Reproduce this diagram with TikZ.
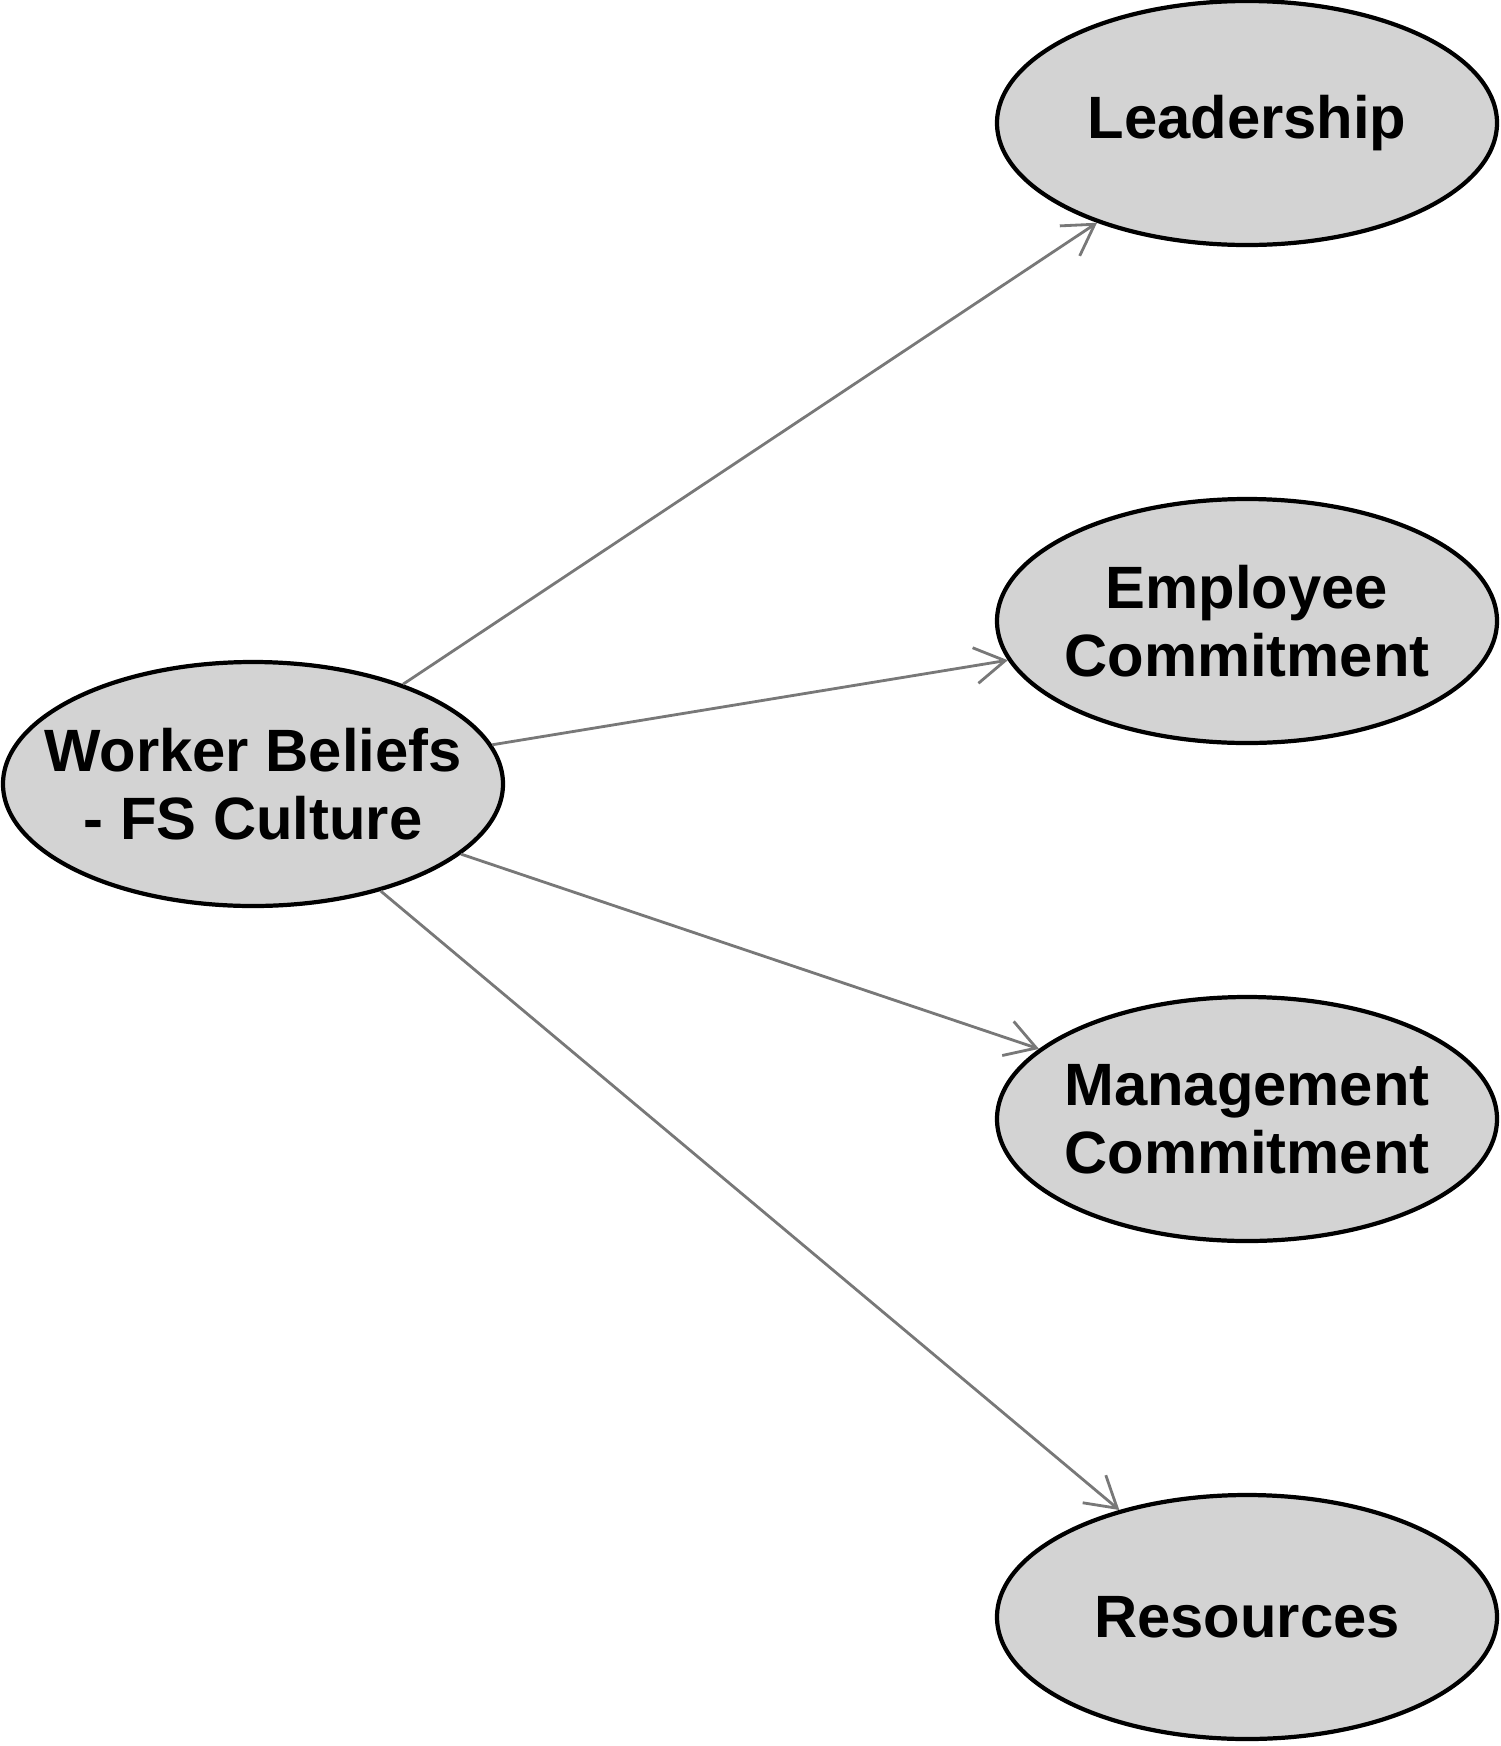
\documentclass[tikz,border=0pt]{standalone}
\usepackage{fontspec}
\setmainfont{Liberation Sans}
\usepackage{tikz}
\usetikzlibrary{arrows.meta, shapes.geometric}

\begin{document}
\begin{tikzpicture}[>={Straight Barb[length=3mm,width=3.6mm]},node distance=4.98cm,
  factor node/.style={ellipse,draw,line width=1.2pt,fill={rgb,255:red,211;green,211;blue,211},
    minimum width=5cm,minimum height=2.44cm,inner xsep=-5mm,inner ysep=0pt,align=center,
    font=\fontsize{17}{19.5}\selectfont\bfseries},
  link/.style={->,draw={rgb,255:red,120;green,120;blue,120},line width=0.8pt}]

    \useasboundingbox (0,0) rectangle (15.01,-17.46);

	\node[factor node] (culture) at (2.53,-7.84) {Worker Beliefs\\- FS Culture};
    \node[factor node] (lead) at (12.47,-1.23) {Leadership};
    \node[factor node] (employee) [below of=lead] {Employee\\Commitment};
    \node[factor node] (manage) [below of=employee] {Management\\Commitment};
    \node[factor node] (resource) [below of=manage] {Resources};

    \path (culture) edge [link] (lead);
    \path (culture) edge [link] (employee);
    \path (culture) edge [link] (manage);
    \path (culture) edge [link] (resource);

\end{tikzpicture}
\end{document}
